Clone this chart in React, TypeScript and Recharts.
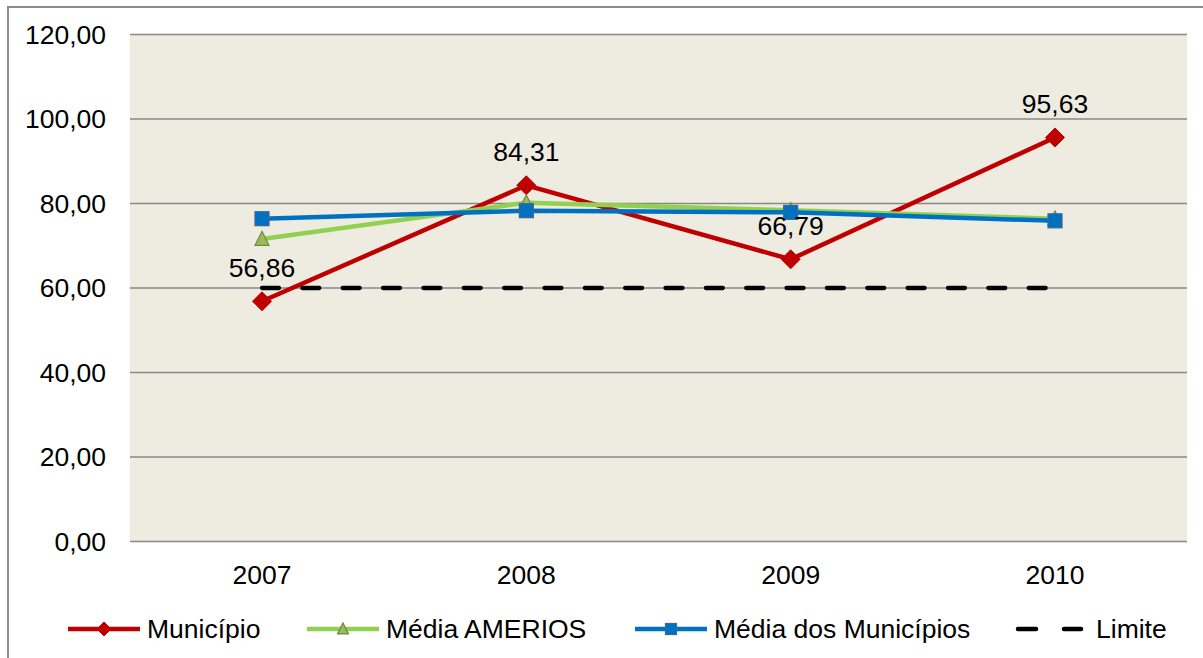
import React from 'react';
import { LineChart, Line, XAxis, YAxis, CartesianGrid, LabelList } from 'recharts';

const categories = ['2007', '2008', '2009', '2010'];
const municipio = [56.86, 84.31, 66.79, 95.63];
const mediaAmerios = [71.6, 80.2, 78.4, 76.4];
const mediaMunicipios = [76.4, 78.3, 77.9, 75.9];
const limite = [60, 60, 60, 60];
const yTicks = [0, 20, 40, 60, 80, 100, 120];

const seriesNames = ['Município', 'Média AMERIOS', 'Média dos Municípios', 'Limite'];

const data = categories.map((c, i) => ({
  year: c,
  municipio: municipio[i],
  mediaAmerios: mediaAmerios[i],
  mediaMunicipios: mediaMunicipios[i],
  limite: limite[i],
}));

const FONT = '"Liberation Sans", Arial, Helvetica, sans-serif';
const FS = 26.5;
const RED = '#C00000';
const GREEN = '#92D050';
const BLUE = '#0070C0';
const fmt = (v: any) => Number(v).toFixed(2).replace('.', ',');

const Diamond = ({ cx, cy, r = 9.5 }: any) => (
  <polygon
    points={`${cx},${cy - r} ${cx + r},${cy} ${cx},${cy + r} ${cx - r},${cy}`}
    fill={RED}
    stroke={RED}
    strokeWidth={1}
  />
);
const Triangle = ({ cx, cy, w = 14 }: any) => (
  <polygon
    points={`${cx},${cy - w * 0.55} ${cx + w / 2},${cy + w * 0.45} ${cx - w / 2},${cy + w * 0.45}`}
    fill="#9BBB59"
    stroke="#71893F"
    strokeWidth={1.2}
  />
);
const Square = ({ cx, cy, s = 14 }: any) => (
  <rect x={cx - s / 2} y={cy - s / 2} width={s} height={s} fill={BLUE} stroke="#3A6799" strokeWidth={1.2} />
);

const renderDiamond = (p: any) => <Diamond key={`dm-${p.index}`} cx={p.cx} cy={p.cy} />;
const renderTriangle = (p: any) => <Triangle key={`tr-${p.index}`} cx={p.cx} cy={p.cy} />;
const renderSquare = (p: any) => <Square key={`sq-${p.index}`} cx={p.cx} cy={p.cy} />;

const legendItems = [
  { name: seriesNames[0], x: 68, color: RED, marker: 'diamond' },
  { name: seriesNames[1], x: 307, color: GREEN, marker: 'triangle' },
  { name: seriesNames[2], x: 635, color: BLUE, marker: 'square' },
  { name: seriesNames[3], x: 1015, color: '#000', marker: 'dash' },
];

const LegendIcon = ({ marker, color }: any) => (
  <svg width={74} height={24} style={{ display: 'block' }}>
    {marker === 'dash' ? (
      <>
        <line x1={3} y1={12} x2={21} y2={12} stroke="#000" strokeWidth={4.5} strokeLinecap="round" />
        <line x1={49} y1={12} x2={66} y2={12} stroke="#000" strokeWidth={4.5} strokeLinecap="round" />
      </>
    ) : (
      <line x1={0} y1={12} x2={72} y2={12} stroke={color} strokeWidth={4.5} />
    )}
    {marker === 'diamond' && <Diamond cx={36} cy={12} r={7} />}
    {marker === 'triangle' && <Triangle cx={36} cy={12} w={11} />}
    {marker === 'square' && <Square cx={36} cy={12} s={11} />}
  </svg>
);

export default function App() {
  return (
    <div style={{ position: 'absolute', left: 0, top: 0, width: 1203, height: 658, overflow: 'hidden', background: '#fff', fontFamily: FONT }}>
      <style>{`html,body{margin:0;padding:0;overflow:hidden;background:#fff}`}</style>
      <div
        style={{
          position: 'absolute',
          left: 7,
          top: 6,
          width: 1400,
          height: 900,
          border: '2px solid #8C8C8C',
          boxSizing: 'border-box',
        }}
      />
      <div style={{ position: 'absolute', left: 0, top: 0 }}>
        <LineChart
          width={1203}
          height={658}
          data={data}
          margin={{ top: 34.5, right: 16, bottom: 76.5, left: 0 }}
        >
          <CartesianGrid vertical={false} stroke="#888888" strokeWidth={1.5} fill="#EEECE1" fillOpacity={1} />
          <XAxis
            dataKey="year"
            padding={{ left: 132, right: 132 }}
            axisLine={false}
            tickLine={false}
            tickSize={0}
            tickMargin={24}
            height={40}
            tick={{ fill: '#000', fontSize: FS, fontFamily: FONT }}
          />
          <YAxis
            domain={[0, 120]}
            ticks={yTicks}
            width={130}
            axisLine={false}
            tickLine={false}
            tickSize={0}
            tickMargin={24}
            tickFormatter={fmt}
            tick={{ fill: '#000', fontSize: FS, fontFamily: FONT }}
          />
          <Line
            dataKey="municipio"
            name={seriesNames[0]}
            stroke={RED}
            strokeWidth={4.5}
            dot={renderDiamond}
            activeDot={false}
            isAnimationActive={false}
          >
            <LabelList
              dataKey="municipio"
              position="top"
              offset={24}
              formatter={fmt}
              fill="#000"
              fontSize={FS}
              fontFamily={FONT}
            />
          </Line>
          <Line
            dataKey="mediaAmerios"
            name={seriesNames[1]}
            stroke={GREEN}
            strokeWidth={4.5}
            dot={renderTriangle}
            activeDot={false}
            isAnimationActive={false}
          />
          <Line
            dataKey="mediaMunicipios"
            name={seriesNames[2]}
            stroke={BLUE}
            strokeWidth={4.5}
            dot={renderSquare}
            activeDot={false}
            isAnimationActive={false}
          />
          <Line
            dataKey="limite"
            name={seriesNames[3]}
            stroke="#000"
            strokeWidth={4.3}
            strokeDasharray="17 23.35"
            strokeLinecap="round"
            dot={false}
            activeDot={false}
            isAnimationActive={false}
          />
        </LineChart>
      </div>
      {legendItems.map((it) => (
        <div
          key={it.name}
          style={{ position: 'absolute', left: it.x, top: 617, height: 24, display: 'flex', alignItems: 'center' }}
        >
          <LegendIcon marker={it.marker} color={it.color} />
          <span style={{ fontSize: FS, fontFamily: FONT, color: '#000', marginLeft: it.marker === 'dash' ? 7 : 5, lineHeight: '24px', whiteSpace: 'nowrap' }}>
            {it.name}
          </span>
        </div>
      ))}
    </div>
  );
}
